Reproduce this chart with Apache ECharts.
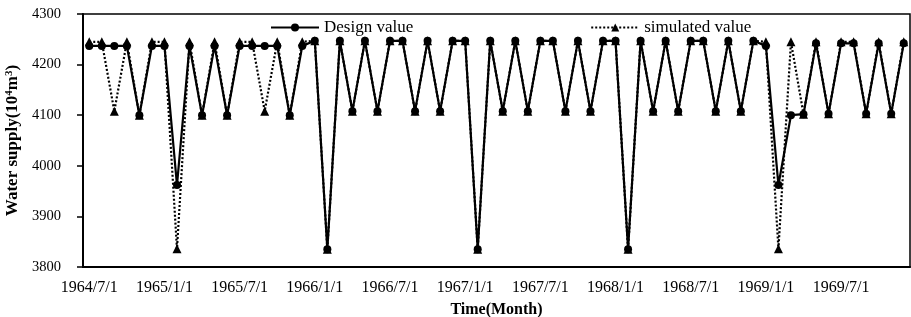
<!DOCTYPE html>
<html>
<head>
<meta charset="utf-8">
<script src="https://cdn.jsdelivr.net/npm/echarts@6/dist/echarts.min.js"></script>
<style>
html,body{margin:0;padding:0;background:#fff;}
#chart{width:911px;height:317px;}
</style>
</head>
<body>
<div id="chart"></div>
<script>
// Months from 1964/7/1 to 1969/12/1 (66 months)
const startYear = 1964, startMonth = 7, monthCount = 66;
const categories = [];
for (let k = 0; k < monthCount; k++) {
  const m = startMonth - 1 + k;
  categories.push((startYear + Math.floor(m / 12)) + '/' + (m % 12 + 1) + '/1');
}

const designValue = [
  4237, 4237, 4237, 4237, 4100, 4237,
  4237, 3962, 4237, 4100, 4237, 4100,
  4237, 4237, 4237, 4237, 4100, 4237,
  4247, 3835, 4247, 4108, 4247, 4108,
  4247, 4247, 4108, 4247, 4108, 4247,
  4247, 3835, 4247, 4108, 4247, 4108,
  4247, 4247, 4108, 4247, 4108, 4247,
  4247, 3835, 4247, 4108, 4247, 4108,
  4247, 4247, 4108, 4247, 4108, 4247,
  4237, 3962, 4100, 4102, 4242, 4103,
  4242, 4242, 4103, 4242, 4103, 4242
];

const simulatedValue = [
  4245, 4245, 4108, 4245, 4100, 4245,
  4245, 3836, 4245, 4100, 4245, 4100,
  4245, 4245, 4108, 4245, 4100, 4245,
  4247, 3835, 4247, 4108, 4247, 4108,
  4247, 4247, 4108, 4247, 4108, 4247,
  4247, 3835, 4247, 4108, 4247, 4108,
  4247, 4247, 4108, 4247, 4108, 4247,
  4247, 3835, 4247, 4108, 4247, 4108,
  4247, 4247, 4108, 4247, 4108, 4247,
  4245, 3836, 4245, 4102, 4245, 4103,
  4245, 4245, 4103, 4245, 4103, 4245
];

const yMin = 3800, yMax = 4300, yStep = 100;
const serif = '"Liberation Serif", "Times New Roman", serif';

const chart = echarts.init(document.getElementById('chart'), null, {renderer: 'canvas'});
chart.setOption({
  animation: false,
  backgroundColor: '#fff',
  textStyle: {fontFamily: serif, color: '#000'},
  grid: {left: 83, right: 1, top: 14, bottom: 50, containLabel: false, outerBoundsMode: 'none',
         show: true, borderColor: '#000', borderWidth: 1.5, backgroundColor: 'transparent'},
  legend: {
    left: 265, top: 14,
    itemWidth: 48, itemHeight: 10, itemGap: 177,
    textStyle: {fontFamily: serif, fontSize: 17, color: '#000'},
    data: ['Design value', 'simulated value']
  },
  xAxis: {
    type: 'category',
    data: categories,
    boundaryGap: true,
    axisLine: {lineStyle: {color: '#000', width: 2}},
    axisTick: {inside: true, length: 5, interval: 5, lineStyle: {color: '#000', width: 1.5}},
    axisLabel: {interval: 5, margin: 13, fontSize: 16, color: '#000', fontFamily: serif},
    name: 'Time(Month)',
    nameLocation: 'middle',
    nameGap: 35,
    nameTextStyle: {fontFamily: serif, fontSize: 16, fontWeight: 'bold', color: '#000'}
  },
  yAxis: {
    type: 'value',
    min: yMin, max: yMax, interval: yStep,
    splitLine: {show: false},
    axisLine: {show: true, lineStyle: {color: '#000', width: 2}},
    axisTick: {show: true, inside: false, length: 6, lineStyle: {color: '#000', width: 1.5}},
    axisLabel: {margin: 22, fontSize: 14.5, color: '#000', fontFamily: serif, formatter: function (v) { return String(v); }},
    name: '{b|Water supply(10}{s|4}{b|m}{s|3}{b|)}',
    nameLocation: 'middle',
    nameGap: 51,
    nameTextStyle: {
      fontFamily: serif, fontSize: 17, fontWeight: 'bold', color: '#000',
      rich: {
        b: {fontFamily: serif, fontSize: 17, fontWeight: 'bold', color: '#000'},
        s: {fontFamily: serif, fontSize: 11, fontWeight: 'bold', color: '#000', verticalAlign: 'top', padding: [0, 0, 6, 0]}
      }
    }
  },
  series: [
    {
      name: 'simulated value',
      type: 'line',
      data: simulatedValue,
      symbol: 'triangle',
      symbolSize: 9,
      showAllSymbol: true,
      itemStyle: {color: '#000'},
      lineStyle: {color: '#000', width: 2.2, type: [2, 2]},
      z: 2
    },
    {
      name: 'Design value',
      type: 'line',
      data: designValue,
      symbol: 'circle',
      symbolSize: 8,
      showAllSymbol: true,
      itemStyle: {color: '#000'},
      lineStyle: {color: '#000', width: 2.2, type: 'solid'},
      z: 3
    }
  ]
});
</script>
</body>
</html>
